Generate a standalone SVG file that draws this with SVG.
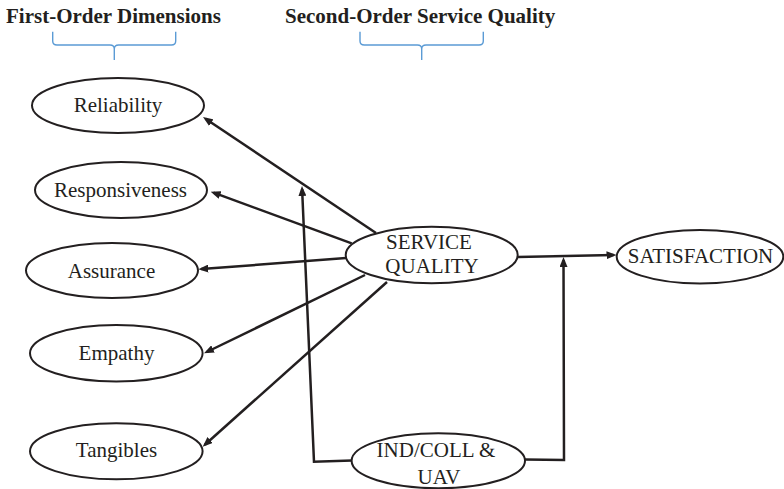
<svg xmlns="http://www.w3.org/2000/svg" width="784" height="489" viewBox="0 0 784 489">
  <defs>
    <marker id="arrow" viewBox="0 0 10 8" markerWidth="10" markerHeight="8" markerUnits="userSpaceOnUse" refX="7" refY="4" orient="auto">
      <path d="M0,0 L10,4 L0,8 z" fill="#231f20"/>
    </marker>
    <style>
      text { font-family: 'Liberation Serif', 'DejaVu Serif', serif; fill: #231f20; }
      .title { font-weight: bold; font-size: 21px; }
      .label { font-size: 21px; text-anchor: middle; }
      .node ellipse { fill: #ffffff; stroke: #231f20; stroke-width: 2; }
      .brace { fill: none; stroke: #5b9bd5; stroke-width: 1.4; }
      .edge { fill: none; stroke: #231f20; stroke-width: 2.5; }
      .arrowed { marker-end: url(#arrow); }
    </style>
  </defs>
  <rect width="784" height="489" fill="#ffffff"/>

  <!-- Headings with their braces -->
  <g id="headings">
    <text class="title" x="6" y="23">First-Order Dimensions</text>
    <text class="title" x="285" y="23">Second-Order Service Quality</text>
    <path class="brace" d="M52.7,31.7 V41 Q52.7,45 57,45 H110 Q114.3,45 114.3,49 V60 M114.3,49 Q114.3,45 118.6,45 H171.4 Q175.7,45 175.7,41 V31.7"/>
    <path class="brace" d="M360,31.7 V41 Q360,45 364.3,45 H417.4 Q421.7,45 421.7,49 V60 M421.7,49 Q421.7,45 426,45 H479 Q483.3,45 483.3,41 V31.7"/>
  </g>

  <!-- Connectors -->
  <g id="connectors">
    <line class="edge arrowed" x1="376" y1="233" x2="205.5" y2="118.7"/>
    <line class="edge arrowed" x1="351.7" y1="243.3" x2="213.5" y2="192.7"/>
    <line class="edge arrowed" x1="346" y1="258" x2="201.3" y2="269.1"/>
    <line class="edge arrowed" x1="365" y1="275" x2="206.7" y2="352"/>
    <line class="edge arrowed" x1="387" y1="282" x2="204.9" y2="444.7"/>
    <line class="edge arrowed" x1="517.5" y1="257" x2="613.5" y2="255.1"/>
    <polyline class="edge arrowed" points="352,460.5 314,461.7 302.1,189"/>
    <polyline class="edge arrowed" points="525,459.5 564,460 563.5,260"/>
  </g>

  <!-- First-order dimensions -->
  <g id="reliability" class="node">
    <ellipse cx="118" cy="105.5" rx="86" ry="27.5"/>
    <text class="label" x="118" y="112">Reliability</text>
  </g>
  <g id="responsiveness" class="node">
    <ellipse cx="121" cy="190" rx="86" ry="28"/>
    <text class="label" x="120.5" y="197">Responsiveness</text>
  </g>
  <g id="assurance" class="node">
    <ellipse cx="112" cy="270.5" rx="86" ry="27.5"/>
    <text class="label" x="111.5" y="278">Assurance</text>
  </g>
  <g id="empathy" class="node">
    <ellipse cx="116.3" cy="353.3" rx="86.3" ry="28.3"/>
    <text class="label" x="116.5" y="360">Empathy</text>
  </g>
  <g id="tangibles" class="node">
    <ellipse cx="116.3" cy="451.3" rx="86.3" ry="28"/>
    <text class="label" x="116.5" y="457">Tangibles</text>
  </g>

  <!-- Second-order construct -->
  <g id="service-quality" class="node">
    <ellipse cx="431.7" cy="255" rx="86" ry="28.3"/>
    <text class="label" x="429" y="249">SERVICE</text>
    <text class="label" x="432" y="273">QUALITY</text>
  </g>

  <!-- Outcome -->
  <g id="satisfaction" class="node">
    <ellipse cx="700" cy="256.7" rx="83.3" ry="26.7"/>
    <text class="label" x="700.5" y="263">SATISFACTION</text>
  </g>

  <!-- Moderator -->
  <g id="ind-coll-uav" class="node">
    <ellipse cx="438.3" cy="460.8" rx="86.7" ry="27.5"/>
    <text class="label" x="436" y="457">IND/COLL &amp;</text>
    <text class="label" x="439" y="484">UAV</text>
  </g>
</svg>
